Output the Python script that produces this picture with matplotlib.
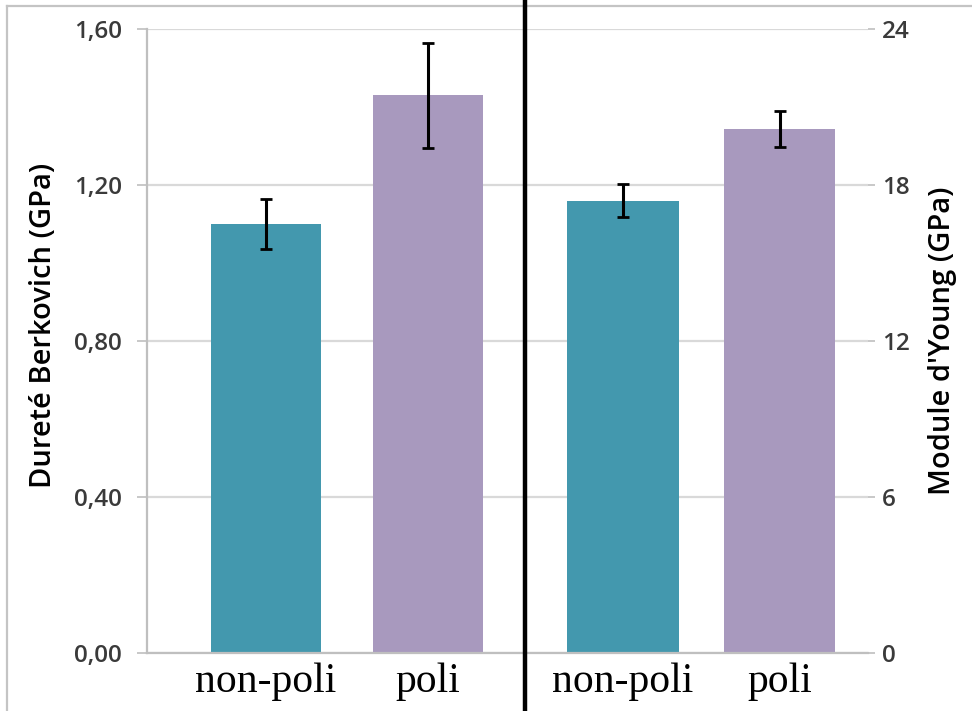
import matplotlib
matplotlib.use("Agg")
import matplotlib.pyplot as plt
from matplotlib.lines import Line2D
from matplotlib.ticker import FuncFormatter

# ---- data ----
categories = ["non-poli", "poli"]
hardness = [1.10, 1.43]          # GPa
hardness_err = [0.065, 0.135]
young = [17.4, 20.15]            # GPa
young_err = [0.63, 0.70]
left_ticks = [0.0, 0.4, 0.8, 1.2, 1.6]
right_ticks = [0, 6, 12, 18, 24]
bar_colors = ["#4398ae", "#a899be"]

W, H = 972, 711
fig = plt.figure(figsize=(W / 100, H / 100), dpi=100)
fig.patch.set_facecolor("white")

def fx(px):
    return px / W

def fy(py):
    return 1 - py / H

y0, y1 = 653, 29
axL = fig.add_axes([fx(147), fy(y0), fx(525 - 147), (y0 - y1) / H])
axR = fig.add_axes([fx(525), fy(y0), fx(868 - 525), (y0 - y1) / H])

grid_c = "#d9d9d9"
spine_c = "#bfbfbf"
tick_c = "#3a3a3a"
sans = ["Open Sans", "DejaVu Sans"]
serif = ["Liberation Serif", "DejaVu Serif"]

xpos = list(range(len(categories)))

# left panel
axL.bar(xpos, hardness, width=0.68, color=bar_colors, zorder=2)
axL.errorbar(xpos, hardness, yerr=hardness_err, fmt="none", ecolor="black",
             elinewidth=2.2, capsize=4, capthick=2, zorder=3)
axL.set_xlim(-0.735, 1.599)
axL.set_ylim(0, 1.6)
axL.set_yticks(left_ticks)
axL.yaxis.set_major_formatter(FuncFormatter(lambda v, p: f"{v:.2f}".replace(".", ",")))
axL.set_ylabel("Dureté Berkovich (GPa)", fontsize=21, family=sans, color="black",
               fontweight="semibold")
axL.yaxis.set_label_coords(-0.235, 0.525)

# right panel
axR.bar(xpos, young, width=0.71, color=bar_colors, zorder=2)
axR.errorbar(xpos, young, yerr=young_err, fmt="none", ecolor="black",
             elinewidth=2.2, capsize=4, capthick=2, zorder=3)
axR.set_xlim(-0.626, 1.565)
axR.set_ylim(0, 24)
axR.set_yticks(right_ticks)
axR.yaxis.tick_right()
axR.yaxis.set_label_position("right")
axR.set_ylabel("Module d'Young (GPa)", fontsize=21, family=sans, color="black",
               rotation=90, fontweight="semibold")
axR.yaxis.set_label_coords(1.175, 0.5)

for ax in (axL, axR):
    ax.set_facecolor("none")
    ax.set_xticks(xpos)
    ax.set_xticklabels(categories, fontsize=30, family=serif, color="black")
    ax.tick_params(axis="x", length=0, pad=7)
    ax.yaxis.grid(True, color=grid_c, linewidth=1.6, zorder=0)
    ax.set_axisbelow(True)
    for s in ("top", "right", "left"):
        ax.spines[s].set_visible(False)
    ax.spines["bottom"].set_color(spine_c)
    ax.spines["bottom"].set_linewidth(1.6)
    for lab in ax.get_yticklabels():
        lab.set_family(sans)
        lab.set_fontsize(17.5)
        lab.set_color(tick_c)
        lab.set_fontweight("semibold")

axL.spines["left"].set_visible(True)
axL.spines["left"].set_color(spine_c)
axL.spines["left"].set_linewidth(1.6)
axL.tick_params(axis="y", length=7, width=1.2, color=spine_c, pad=11)
axR.tick_params(axis="y", length=5, width=1.2, color=spine_c, pad=5)

# decorations: middle separator and frame
fig.add_artist(Line2D([fx(525), fx(525)], [0, 1], color="black", linewidth=3.2,
                      transform=fig.transFigure, zorder=10))
fig.add_artist(Line2D([fx(7), 1], [fy(6), fy(6)], color="#c4c4c4", linewidth=1.6,
                      transform=fig.transFigure))
fig.add_artist(Line2D([fx(7), fx(7)], [fy(6), 0], color="#c4c4c4", linewidth=1.6,
                      transform=fig.transFigure))

fig.savefig("out.png", dpi=100, facecolor="white")
